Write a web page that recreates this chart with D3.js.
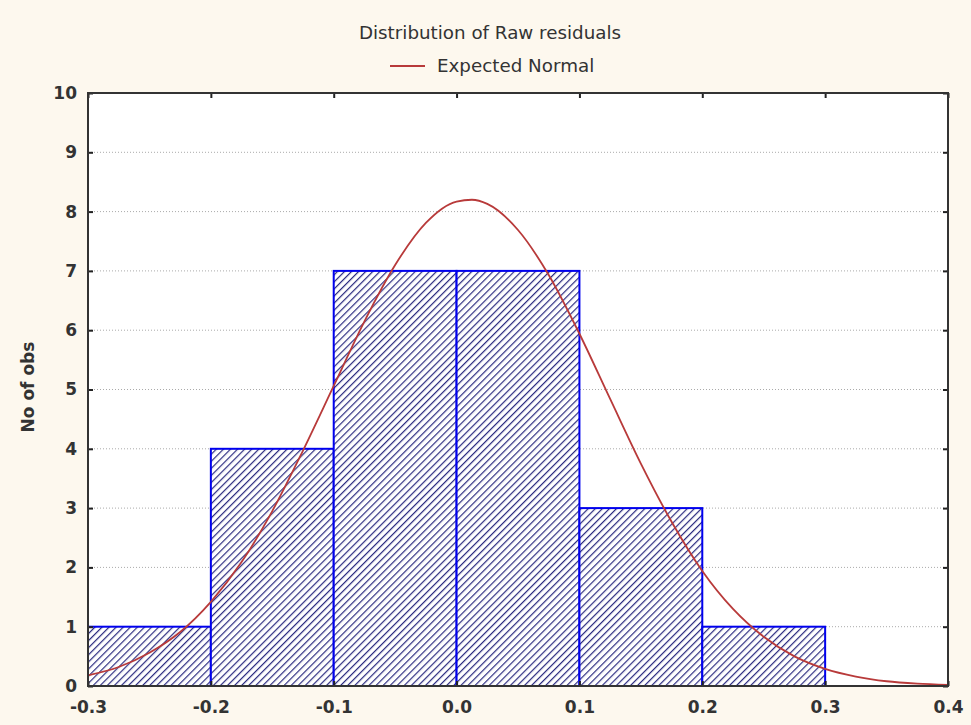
<!DOCTYPE html>
<html>
<head>
<meta charset="utf-8">
<script src="https://cdn.jsdelivr.net/npm/d3@7"></script>
<style>
  body { margin: 0; background: #fdf8ee; }
  svg text { font-family: "DejaVu Sans", Verdana, sans-serif; fill: #333; }
</style>
</head>
<body>
<div class="svg-container"></div>
<script>
// histogram bins (left edges) and counts
var binStarts = [-0.3, -0.2, -0.1, 0.0, 0.1, 0.2, 0.3];
var binWidth = 0.1;
var counts = [1, 4, 7, 7, 3, 1, 0];

// expected normal curve
var curveX = [-0.3, -0.275, -0.25, -0.225, -0.2, -0.175, -0.15, -0.125, -0.1, -0.075,
              -0.05, -0.025, 0.0, 0.0125, 0.025, 0.05, 0.075, 0.1, 0.125, 0.15, 0.175,
              0.2, 0.225, 0.25, 0.275, 0.3, 0.325, 0.35, 0.375, 0.4];
var curveY = [0.18, 0.32, 0.56, 0.91, 1.42, 2.09, 2.95, 3.97, 5.06, 6.15,
              7.10, 7.81, 8.17, 8.2, 8.13, 7.69, 6.93, 5.94, 4.84, 3.75, 2.77,
              1.94, 1.30, 0.83, 0.50, 0.29, 0.16, 0.08, 0.04, 0.02];

var xTicks = [-0.3, -0.2, -0.1, 0.0, 0.1, 0.2, 0.3, 0.4];
var yTicks = [0, 1, 2, 3, 4, 5, 6, 7, 8, 9, 10];

var width = 971, height = 725;
var pLeft = 88, pRight = 948, pTop = 93, pBottom = 686;

var svg = d3.select(".svg-container").append("svg")
    .attr("width", width)
    .attr("height", height);

var defs = svg.append("defs");
var pat = defs.append("pattern")
    .attr("id", "hatch")
    .attr("patternUnits", "userSpaceOnUse")
    .attr("width", 5)
    .attr("height", 5)
    .attr("patternTransform", "rotate(45)");
pat.append("rect").attr("width", 5).attr("height", 5).attr("fill", "#ffffff");
pat.append("line")
    .attr("x1", 0).attr("y1", 0).attr("x2", 0).attr("y2", 5)
    .attr("stroke", "#2b2b80")
    .attr("stroke-width", 2.4);

var x = d3.scaleLinear().domain([-0.3, 0.4]).range([pLeft, pRight]);
var y = d3.scaleLinear().domain([0, 10]).range([pBottom, pTop]);

var fmtX = function(d) { return d3.format(".1f")(d).replace("\u2212", "-"); };

// plot background
svg.append("rect")
    .attr("x", pLeft).attr("y", pTop)
    .attr("width", pRight - pLeft).attr("height", pBottom - pTop)
    .attr("fill", "#ffffff");

// grid
svg.append("g").selectAll("line")
    .data(yTicks.slice(1, -1))
    .enter().append("line")
    .attr("x1", pLeft).attr("x2", pRight)
    .attr("y1", d => y(d)).attr("y2", d => y(d))
    .attr("stroke", "#aaa")
    .attr("stroke-width", 1)
    .attr("stroke-dasharray", "1,2");

// bars
svg.append("g").selectAll("rect")
    .data(counts.map((c, i) => ({x0: binStarts[i], c: c})).filter(d => d.c > 0))
    .enter().append("rect")
    .attr("x", d => x(d.x0))
    .attr("y", d => y(d.c))
    .attr("width", d => x(d.x0 + binWidth) - x(d.x0))
    .attr("height", d => y(0) - y(d.c))
    .attr("fill", "url(#hatch)")
    .attr("stroke", "#0000ee")
    .attr("stroke-width", 2);

// normal curve
var line = d3.line()
    .x(function(d) { return x(d[0]); })
    .y(function(d) { return y(d[1]); })
    .curve(d3.curveMonotoneX);

svg.append("path")
    .datum(curveX.map((v, i) => [v, curveY[i]]))
    .attr("d", line)
    .attr("fill", "none")
    .attr("stroke", "#b83a3a")
    .attr("stroke-width", 1.8);

// axes (ticks inward)
svg.append("g")
    .attr("transform", "translate(" + pLeft + ",0)")
    .call(d3.axisLeft(y).tickValues(yTicks).tickSizeInner(-5).tickSizeOuter(0).tickPadding(11).tickFormat(d3.format("d")))
    .call(g => g.select(".domain").remove());
svg.append("g")
    .attr("transform", "translate(" + pRight + ",0)")
    .call(d3.axisRight(y).tickValues(yTicks).tickSizeInner(-5).tickSizeOuter(0).tickFormat(""))
    .call(g => g.select(".domain").remove());
svg.append("g")
    .attr("transform", "translate(0," + pBottom + ")")
    .call(d3.axisBottom(x).tickValues(xTicks).tickSizeInner(-5).tickSizeOuter(0).tickPadding(15).tickFormat(fmtX))
    .call(g => g.select(".domain").remove());
svg.append("g")
    .attr("transform", "translate(0," + pTop + ")")
    .call(d3.axisTop(x).tickValues(xTicks).tickSizeInner(-5).tickSizeOuter(0).tickFormat(""))
    .call(g => g.select(".domain").remove());

svg.selectAll(".tick line").attr("stroke", "#222").attr("stroke-width", 2);
svg.selectAll(".tick text")
    .style("font-family", "'DejaVu Sans', Verdana, sans-serif")
    .style("font-size", "17px")
    .style("font-weight", "bold")
    .attr("fill", "#444");

// frame
svg.append("rect")
    .attr("x", pLeft).attr("y", pTop)
    .attr("width", pRight - pLeft).attr("height", pBottom - pTop)
    .attr("fill", "none")
    .attr("stroke", "#333")
    .attr("stroke-width", 2);

// title
svg.append("text")
    .attr("x", 490).attr("y", 39)
    .style("text-anchor", "middle")
    .style("font-size", "18.3px")
    .attr("fill", "#222")
    .text("Distribution of Raw residuals");

// legend
svg.append("line")
    .attr("x1", 390).attr("x2", 425)
    .attr("y1", 66).attr("y2", 66)
    .attr("stroke", "#b83a3a")
    .attr("stroke-width", 1.8);
svg.append("text")
    .attr("x", 437).attr("y", 72)
    .style("font-size", "18.3px")
    .attr("fill", "#222")
    .text("Expected Normal");

// Y label
svg.append("text")
    .attr("transform", "rotate(-90)")
    .attr("x", -387)
    .attr("y", 34)
    .style("text-anchor", "middle")
    .style("font-size", "17px")
    .style("font-weight", "bold")
    .attr("fill", "#333")
    .text("No of obs");
</script>
</body>
</html>
